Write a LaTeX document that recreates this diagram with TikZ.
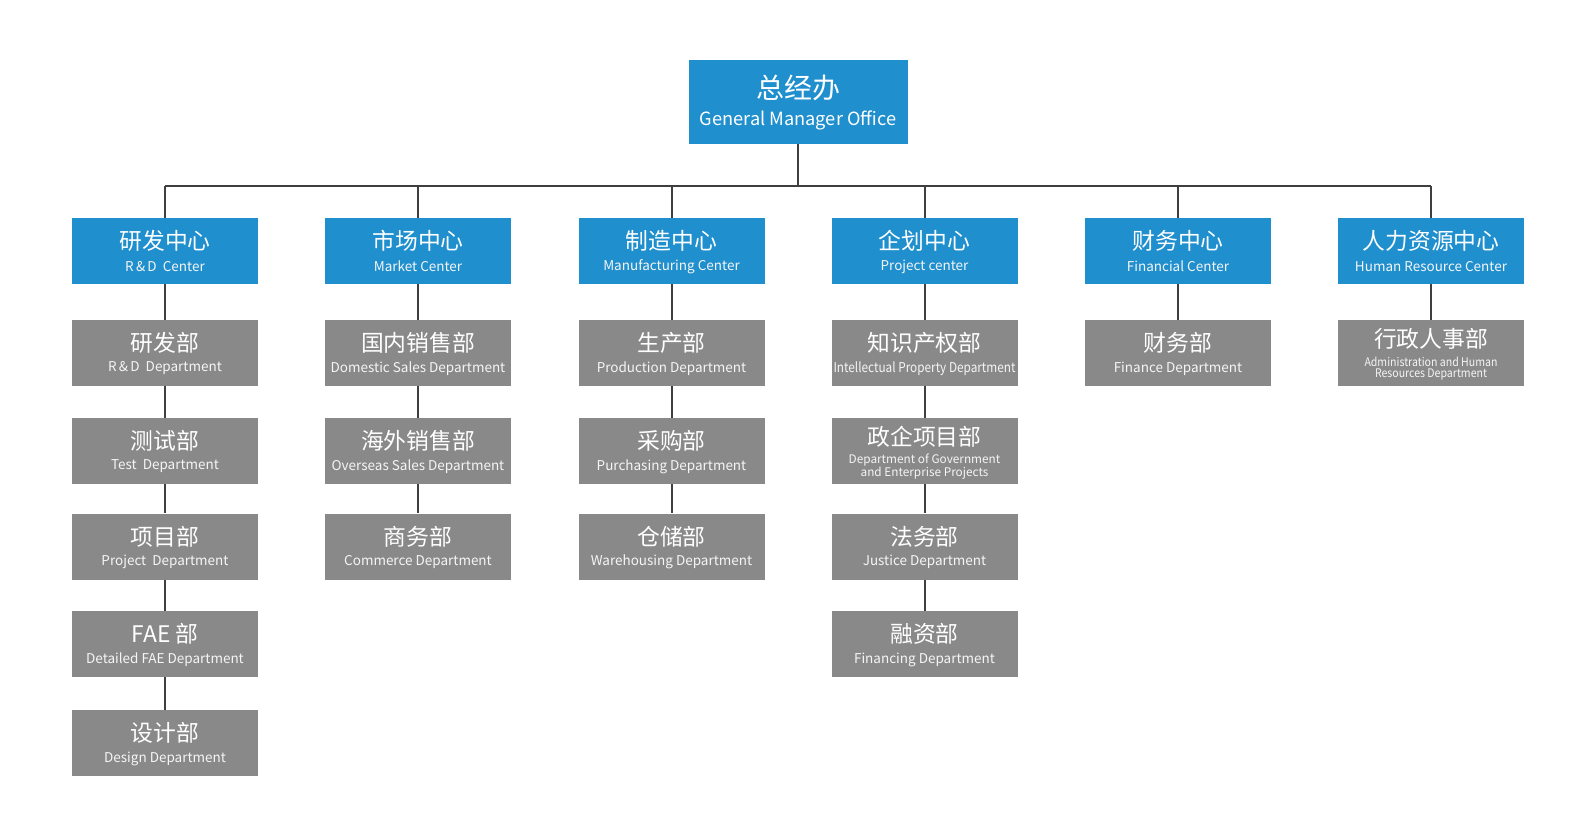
\documentclass[tikz,border=0pt]{standalone}
\usepackage{fontspec}
\usepackage{graphicx}
\setmainfont{Noto Sans CJK SC}
\definecolor{bl}{HTML}{1F8FCE}
\definecolor{gr}{HTML}{898989}
\definecolor{ln}{HTML}{3F3F3F}
\newcommand\orgbox[6]{%
  \node[#4] (#1) at (#2,#3) {};
  \node[zh] (#1z) at (#2,{#3-10}) {#5};
  \node[en] (#1e) at (#2,{#3+15.5}) {#6};
}
\newcommand\orgboxb[7]{%
  \node[#4] (#1) at (#2,#3) {};
  \node[zh] (#1z) at (#2,{#3-14}) {#5};
  \node[ens] (#1e) at (#2,{#3+9}) {#6};
  \node[ens] (#1f) at (#2,{#3+22}) {#7};
}
\begin{document}
\begin{tikzpicture}[x=1pt,y=-1pt,
  box/.style={minimum width=186pt,minimum height=66pt,inner sep=0pt,draw=none},
  cbox/.style={box,fill=bl},
  dbox/.style={box,fill=gr},
  zh/.style={text=white,font=\fontsize{22.8}{24}\selectfont,inner sep=0pt},
  en/.style={text=white!92!gray,font=\fontsize{13.5}{15}\selectfont,inner sep=0pt},
  ens/.style={text=white!92!gray,font=\fontsize{11.8}{13}\selectfont,inner sep=0pt},
  conn/.style={draw=ln,line width=2pt}]
\useasboundingbox (0,0) rectangle (1594,829);
% top
\node[box,fill=bl,minimum width=219pt,minimum height=84pt] (gm) at (798,102) {};
\node[zh,font=\fontsize{28}{30}\selectfont] (gmz) at (798,88) {总经办};
\node[en,font=\fontsize{18.2}{20}\selectfont,text=white] (gme) at (798,120) {General Manager Office};
\coordinate (bus) at (798,186);
% centers
\orgbox{c1}{165}{251}{cbox}{研发中心}{R\,\&\,D~ Center}
\orgbox{c2}{418}{251}{cbox}{市场中心}{Market Center}
\orgbox{c3}{671.5}{251}{cbox}{制造中心}{Manufacturing Center}
\orgbox{c4}{924.5}{251}{cbox}{企划中心}{Project center}
\orgbox{c5}{1178}{251}{cbox}{财务中心}{Financial Center}
\orgbox{c6}{1431}{251}{cbox}{人力资源中心}{Human Resource Center}
% column 1
\orgbox{d11}{165}{353}{dbox}{研发部}{R\,\&\,D~ Department}
\orgbox{d12}{165}{451}{dbox}{测试部}{Test~ Department}
\orgbox{d13}{165}{546.5}{dbox}{项目部}{Project~ Department}
\orgbox{d14}{165}{644}{dbox}{FAE 部}{Detailed FAE Department}
\orgbox{d15}{165}{743}{dbox}{设计部}{Design Department}
% column 2
\orgbox{d21}{418}{353}{dbox}{国内销售部}{Domestic Sales Department}
\orgbox{d22}{418}{451}{dbox}{海外销售部}{Overseas Sales Department}
\orgbox{d23}{418}{546.5}{dbox}{商务部}{Commerce Department}
% column 3
\orgbox{d31}{671.5}{353}{dbox}{生产部}{Production Department}
\orgbox{d32}{671.5}{451}{dbox}{采购部}{Purchasing Department}
\orgbox{d33}{671.5}{546.5}{dbox}{仓储部}{Warehousing Department}
% column 4
\orgbox{d41}{924.5}{353}{dbox}{知识产权部}{\resizebox{182pt}{\height}{Intellectual Property Department}}
\orgboxb{d42}{924.5}{451}{dbox}{政企项目部}{Department of Government}{and Enterprise Projects}
\orgbox{d43}{924.5}{546.5}{dbox}{法务部}{Justice Department}
\orgbox{d44}{924.5}{644}{dbox}{融资部}{Financing Department}
% column 5
\orgbox{d51}{1178}{353}{dbox}{财务部}{Finance Department}
% column 6
\orgboxb{d61}{1431}{353}{dbox}{行政人事部}{\resizebox{133pt}{\height}{Administration and Human}}{\resizebox{112pt}{\height}{Resources Department}}
% connectors
\draw[conn] (gm.south) -- (bus);
\draw[conn] (c1.north |- bus) -- (c6.north |- bus);
\foreach \c in {c1,c2,c3,c4,c5,c6} {\draw[conn] (\c.north |- bus) -- (\c.north);}
\draw[conn] (c1.south) -- (d11.north) (d11.south) -- (d12.north) (d12.south) -- (d13.north) (d13.south) -- (d14.north) (d14.south) -- (d15.north);
\draw[conn] (c2.south) -- (d21.north) (d21.south) -- (d22.north) (d22.south) -- (d23.north);
\draw[conn] (c3.south) -- (d31.north) (d31.south) -- (d32.north) (d32.south) -- (d33.north);
\draw[conn] (c4.south) -- (d41.north) (d41.south) -- (d42.north) (d42.south) -- (d43.north) (d43.south) -- (d44.north);
\draw[conn] (c5.south) -- (d51.north);
\draw[conn] (c6.south) -- (d61.north);
\end{tikzpicture}
\end{document}
